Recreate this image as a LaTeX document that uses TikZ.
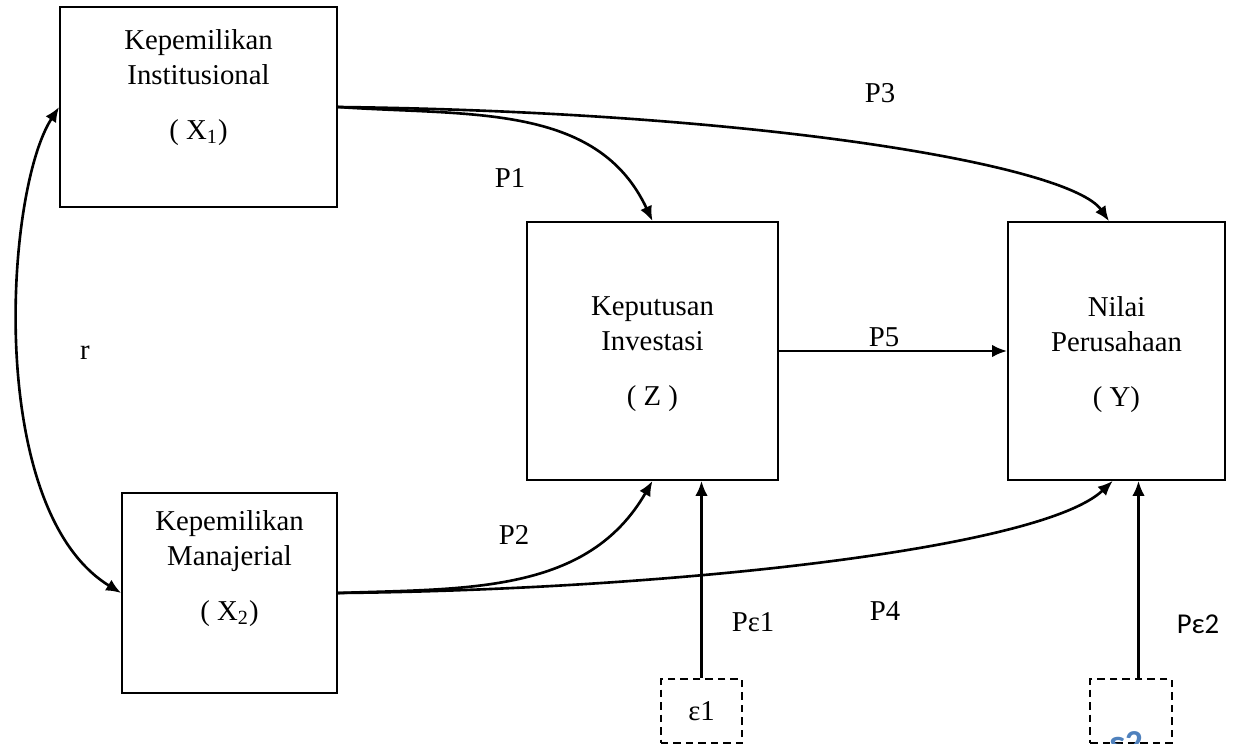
\documentclass[tikz,border=0pt]{standalone}
\usepackage{fontspec}
\setmainfont{Liberation Serif}
\newfontfamily\calibrifont{Carlito}
\usetikzlibrary{arrows.meta,positioning}
\definecolor{epsblue}{RGB}{79,129,189}

\begin{document}
\begin{tikzpicture}[x=0.4pt,y=-0.4pt,>={Latex[length=6pt,width=5pt]},
 font=\fontsize{11.5}{14}\selectfont,
 box/.style={draw,line width=.7pt,inner sep=0pt},
 boxtxt/.style={align=center,inner sep=0pt},
 errbox/.style={draw,line width=.8pt,dash pattern=on 3pt off 2pt,
 minimum width=32.6pt,minimum height=25.6pt,inner sep=0pt},
 lbl/.style={inner sep=0pt},
 arr/.style={->,line width=1.05pt}]
\useasboundingbox (0,0) rectangle (1237,744);
\clip (0,0) rectangle (1237,744);

\node[box,minimum width=110.8pt,minimum height=80pt] (inst) at (198.5,107) {};
\node[boxtxt,below=9pt of inst.north] (insttxt) {Kepemilikan\\Institusional\\[8pt]( X\textsubscript{1})};
\node[box,minimum width=86pt,minimum height=80pt] (manj) at (229.5,593) {};
\node[boxtxt,below=7pt of manj.north] (manjtxt) {Kepemilikan\\Manajerial\\[8pt]( X\textsubscript{2})};
\node[box,minimum width=100.4pt,minimum height=103.2pt] (inv) at (652.5,351) {};
\node[boxtxt,below=30pt of inv.north] (invtxt) {Keputusan\\Investasi\\[8pt]( Z )};
\node[box,minimum width=86.8pt,minimum height=103.2pt] (nilai) at (1116.5,351) {};
\node[boxtxt,below=30pt of nilai.north] (nilaitxt) {Nilai\\Perusahaan\\[8pt]( Y)};

\node[errbox] (e1) at (701.5,711) {ε1};
\node[errbox] (e2) at (1131,711) {};
\node[lbl,anchor=base,text=epsblue,font=\calibrifont\bfseries\fontsize{14}{16}\selectfont] (e2txt) at (1126,754) {ε2};

% paths between the constructs
\draw[arr] (inst.east) to[out=-4,in=115] (inv.north);
\draw[arr] (inst.east) .. controls (760,112) and (1070,165) .. ([xshift=-3pt]nilai.north);
\draw[arr] (manj.east) to[out=2,in=240] (inv.south);
\draw[arr] (manj.east) .. controls (660,590) and (1040,550) .. ([xshift=-1.5pt]nilai.south);
\draw[arr] (inv.east) -- (nilai.west);
\draw[<->,line width=1.05pt] (inst.west) .. controls (5,190) and (-15,510) .. (manj.west);
% error terms
\draw[arr] (e1.north) -- (e1.north |- inv.south);
\draw[arr] ([xshift=3pt]e2.north) -- ([xshift=3pt]e2.north |- nilai.south);

\node[lbl] (p1) at (510,178) {P1};
\node[lbl] (p2) at (514,535) {P2};
\node[lbl] (p3) at (880,93) {P3};
\node[lbl] (p4) at (885,611) {P4};
\node[lbl] (p5) at (884,337) {P5};
\node[lbl] (r) at (85,353) {r};
\node[lbl] (pe1) at (753,622) {Pε1};
\node[lbl,font=\calibrifont\fontsize{11.5}{14}\selectfont] (pe2) at (1198,624) {Pε2};
\end{tikzpicture}
\end{document}
